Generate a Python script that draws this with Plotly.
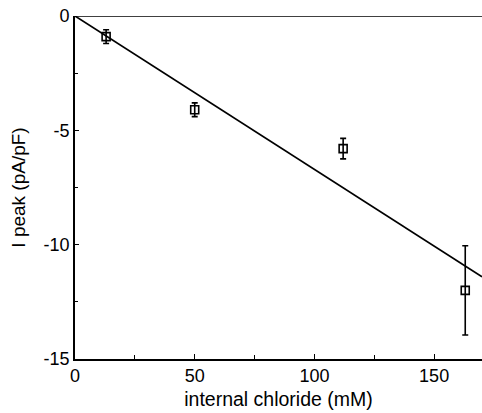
import plotly.graph_objects as go

# data
chloride = [13, 50, 112, 163]
i_peak = [-0.9, -4.1, -5.8, -12.0]
i_err = [0.3, 0.3, 0.45, 1.95]
fit_x = [0, 170]
fit_y = [0, -11.4]
x_ticks = [0, 50, 100, 150]
y_ticks = [0, -5, -10, -15]
y_tick_labels = ["0", "-5", "-10", "-15"]

fig = go.Figure()
fig.add_trace(go.Scatter(x=fit_x, y=fit_y, mode="lines",
                         line=dict(color="black", width=1.7), showlegend=False,
                         cliponaxis=False))
fig.add_trace(go.Scatter(x=chloride, y=i_peak, mode="markers",
                         marker=dict(symbol="square-open", size=8, color="black",
                                     line=dict(width=1.6)),
                         error_y=dict(type="data", array=i_err, color="black",
                                      thickness=1.6, width=3),
                         showlegend=False, cliponaxis=False))

fig.add_shape(type="line", xref="x", yref="y", x0=0, x1=170, y0=0, y1=0,
              line=dict(color="black", width=1.7))

font = "Liberation Sans, Arial, Helvetica, sans-serif"
fig.update_layout(
    width=482, height=413,
    margin=dict(l=75, r=0, t=16, b=54),
    paper_bgcolor="white", plot_bgcolor="white",
    font=dict(family=font, color="black", size=18),
    xaxis=dict(range=[0, 170], tickvals=x_ticks, showgrid=False, zeroline=False,
               showline=True, linecolor="black", linewidth=1.7,
               ticks="inside", ticklen=5, tickwidth=1.4, tickcolor="black",
               minor=dict(dtick=25, tick0=0, ticks="inside", ticklen=4,
                          tickwidth=1.2, tickcolor="black", showgrid=False),
               title=dict(text="internal chloride (mM)", font=dict(size=19.5), standoff=7),
               tickfont=dict(size=18)),
    yaxis=dict(range=[-15, 0], tickvals=y_ticks, ticktext=y_tick_labels,
               showgrid=False, zeroline=False,
               showline=True, linecolor="black", linewidth=1.7,
               ticks="inside", ticklen=4, tickwidth=1.4, tickcolor="black",
               minor=dict(dtick=2.5, tick0=0, ticks="inside", ticklen=3,
                          tickwidth=1.2, tickcolor="black", showgrid=False),
               title=dict(text="I peak (pA/pF)", font=dict(size=19), standoff=13),
               tickfont=dict(size=18)),
)

fig.write_html("out.html")
